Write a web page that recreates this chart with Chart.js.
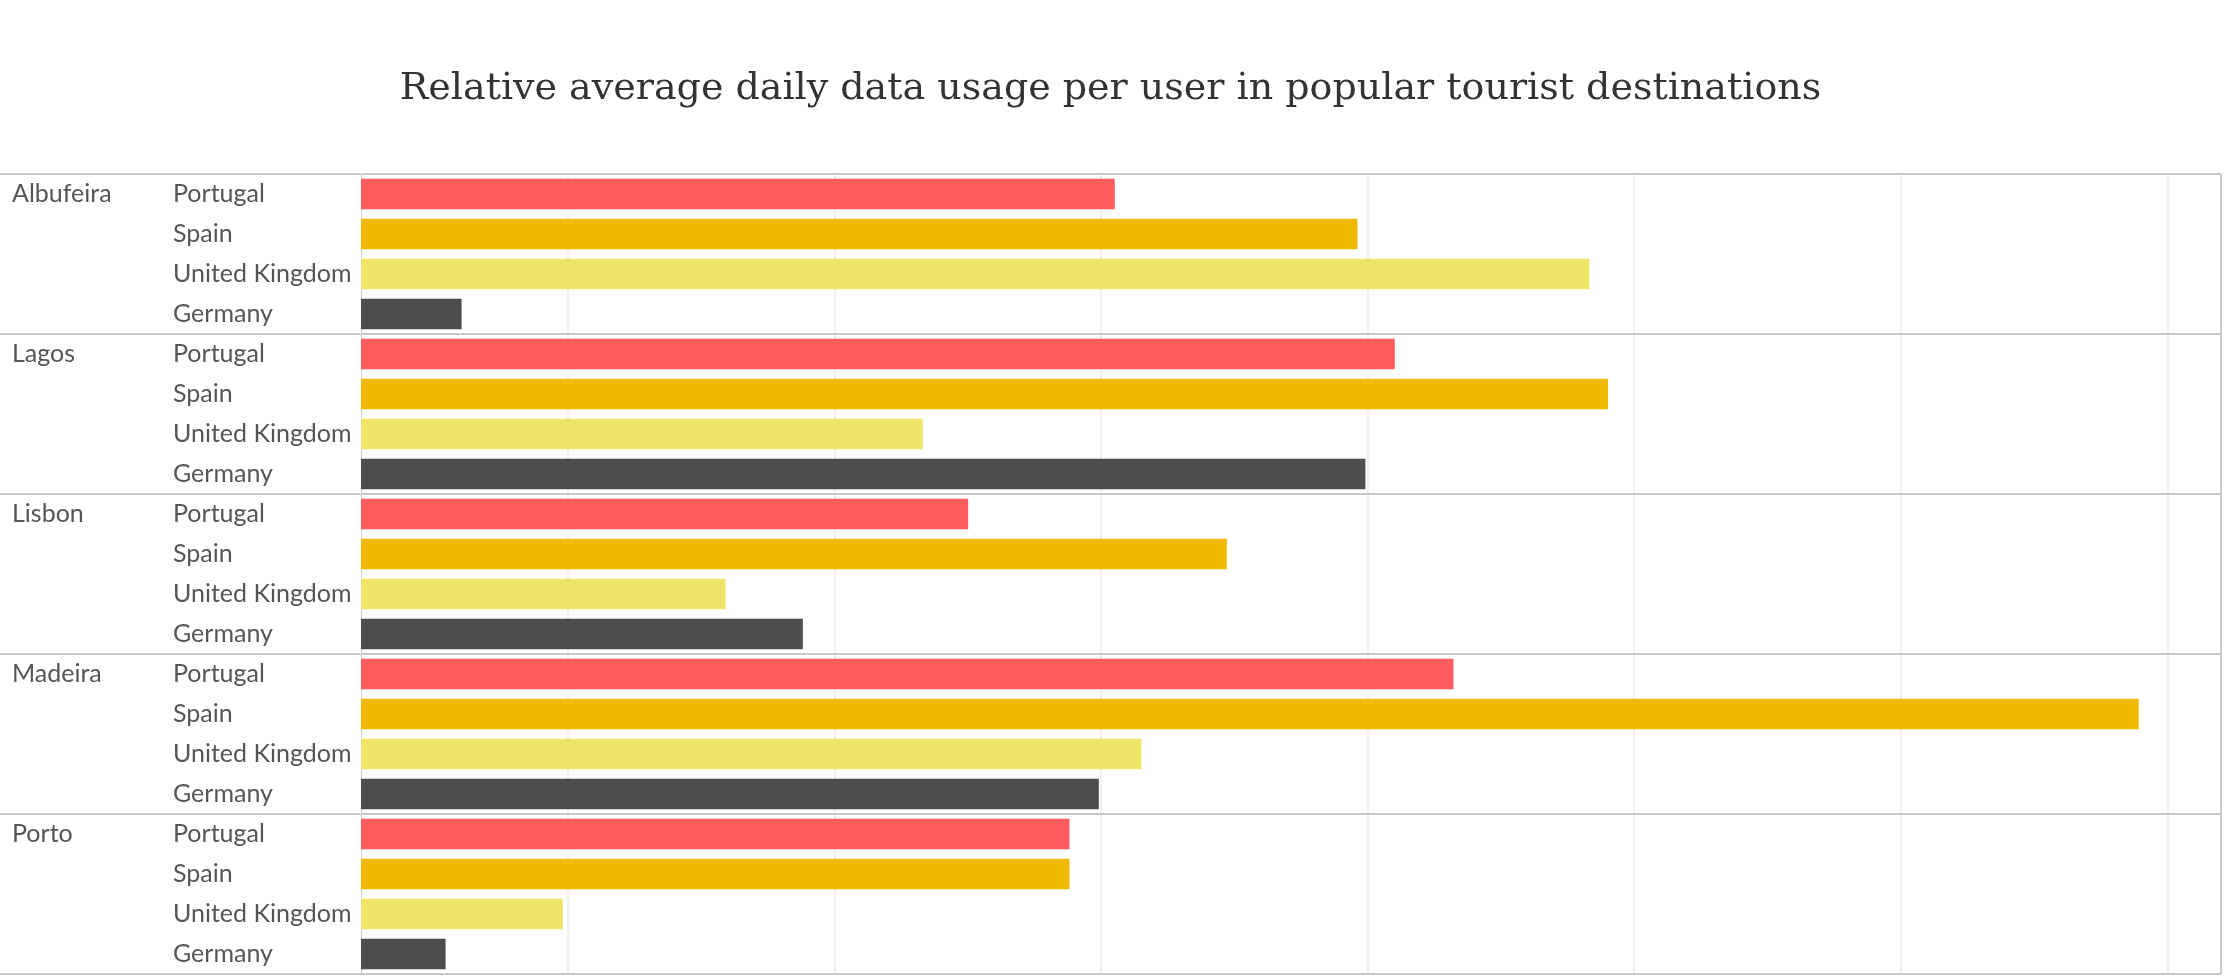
<!DOCTYPE html>
<html>
<head>
<meta charset="utf-8">
<script src="https://cdn.jsdelivr.net/npm/chart.js@4/dist/chart.umd.min.js"></script>
<style>
  html, body { margin: 0; padding: 0; background: #fff; }
  #chart { display: block; }
</style>
</head>
<body>
<canvas id="chart" width="2226" height="976"></canvas>
<script>
// Data (relative units, one unit per gridline)
const cities = ['Albufeira', 'Lagos', 'Lisbon', 'Madeira', 'Porto'];
const countries = ['Portugal', 'Spain', 'United Kingdom', 'Germany'];
const portugalValues = [3.05, 4.10, 2.50, 4.32, 2.88];
const spainValues = [3.96, 4.90, 3.47, 6.89, 2.88];
const ukValues = [4.83, 2.33, 1.59, 3.15, 0.98];
const germanyValues = [0.60, 3.99, 1.88, 2.99, 0.54];
const gridTicks = [1, 2, 3, 4, 5, 6, 7];
const xMin = 0.224;
const xMax = 7.2;

const countryColors = ['#FF5D5D', '#F0B900', '#EFE468', '#4D4D4D'];
const labelFont = '25px Lato, "Open Sans", sans-serif';

// Flatten to one row per city / country pair
const seriesByCountry = [portugalValues, spainValues, ukValues, germanyValues];
const rowLabels = [];
const rowValues = [];
const rowColors = [];
cities.forEach((city, ci) => {
    countries.forEach((country, ki) => {
        rowLabels.push(city + ' | ' + country);
        rowValues.push(seriesByCountry[ki][ci]);
        rowColors.push(countryColors[ki]);
    });
});

// Draws the nested row headers (city, then country) using the y scale
const rowHeaders = {
    id: 'rowHeaders',
    afterDraw(chart) {
        const ctx = chart.ctx;
        const yScale = chart.scales.y;
        ctx.save();
        ctx.font = labelFont;
        ctx.fillStyle = '#555555';
        ctx.textAlign = 'left';
        ctx.textBaseline = 'middle';
        rowLabels.forEach((_, i) => {
            const y = yScale.getPixelForValue(i);
            const ki = i % countries.length;
            ctx.fillText(countries[ki], 173, y);
            if (ki === 0) {
                ctx.fillText(cities[Math.floor(i / countries.length)], 12, y);
            }
        });
        ctx.restore();
    }
};

new Chart(document.getElementById('chart'), {
    type: 'bar',
    data: {
        labels: rowLabels,
        datasets: [{
            data: rowValues,
            backgroundColor: rowColors,
            borderWidth: 0,
            barThickness: 30,
            base: xMin
        }]
    },
    options: {
        indexAxis: 'y',
        responsive: false,
        devicePixelRatio: 1,
        animation: false,
        layout: { padding: { top: 0, right: 5, bottom: 2, left: 0 } },
        plugins: {
            legend: { display: false },
            tooltip: { enabled: false },
            title: {
                display: true,
                text: 'Relative average daily data usage per user in popular tourist destinations',
                color: '#333333',
                font: { family: '"DejaVu Serif", serif', size: 38, weight: 'normal', lineHeight: 1.2 },
                padding: { top: 66, bottom: 62.4 }
            }
        },
        scales: {
            x: {
                min: xMin,
                max: xMax,
                afterBuildTicks: scale => {
                    scale.ticks = gridTicks.concat([xMax]).map(v => ({ value: v }));
                },
                ticks: { display: false },
                border: { display: false },
                grid: {
                    drawTicks: false,
                    lineWidth: 2,
                    color: ctx => (ctx.tick && ctx.tick.value === xMax) ? '#c8c8c8' : '#efefef'
                }
            },
            y: {
                afterFit: scale => { scale.width = 361; },
                ticks: { display: false },
                border: { display: true, color: '#d0d0d0', width: 1 },
                grid: {
                    offset: true,
                    drawTicks: true,
                    tickLength: 361,
                    lineWidth: 2,
                    color: ctx => (ctx.index === undefined || ctx.index % countries.length === 0) ? '#c8c8c8' : 'rgba(0,0,0,0)'
                }
            }
        }
    },
    plugins: [rowHeaders]
});
</script>
</body>
</html>
